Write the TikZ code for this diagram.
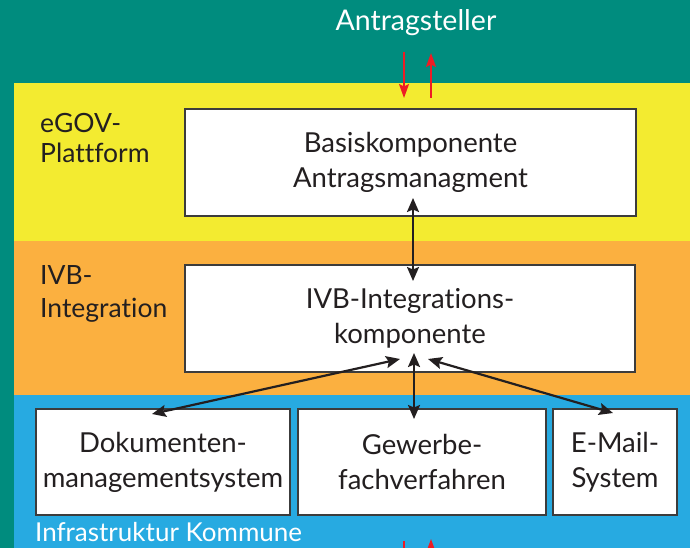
\documentclass[tikz,border=0pt]{standalone}
\usepackage{fontspec}
\setmainfont{Lato}[Ligatures=NoCommon]
\usetikzlibrary{arrows.meta}
\definecolor{bgteal}{RGB}{0,140,126}
\definecolor{bandyellow}{RGB}{243,235,48}
\definecolor{bandorange}{RGB}{251,176,64}
\definecolor{bandblue}{RGB}{39,170,225}
\definecolor{boxline}{RGB}{60,60,60}
\definecolor{textdark}{RGB}{35,31,32}
\definecolor{arrred}{RGB}{237,28,36}
\tikzset{
  compbox/.style={draw=boxline, line width=1.4pt, fill=white, inner sep=0pt,
    align=center, text=textdark, font=\fontsize{27.5}{35}\selectfont},
  bandlabel/.style={align=left, text=textdark, inner sep=0pt, anchor=north west},
  flow/.style={line width=2.2pt, textdark, {Stealth[length=14pt,width=12pt,inset=2.5pt]}-{Stealth[length=14pt,width=12pt,inset=2.5pt]}},
  redarr/.style={line width=2pt, arrred, -{Stealth[length=14pt,width=10pt,inset=2.5pt]}}
}
\begin{document}
\begin{tikzpicture}[x=1pt,y=-1pt]
\useasboundingbox (0,0) rectangle (690,548);
\begin{scope}
\clip (0,0) rectangle (690,548);
\fill[bgteal] (0,0) rectangle (690,548);
\fill[bandyellow] (14,83) rectangle (690,241);
\fill[bandorange] (14,241) rectangle (690,395);
\fill[bandblue] (14,395) rectangle (690,548);

\node[text=white, inner sep=0pt, font=\fontsize{28.5}{30}\selectfont, anchor=base] (antr) at (416,31) {Antragsteller};

\node[bandlabel, font=\fontsize{26.5}{30}\selectfont] (egov) at (40,113) {eGOV-\\Plattform};
\node[bandlabel, font=\fontsize{26.5}{33}\selectfont] (ivb) at (40,265) {IVB-\\Integration};
\node[text=white, inner sep=0pt, font=\fontsize{26}{30}\selectfont, anchor=base west] (infra) at (35,541) {Infrastruktur Kommune};

\node[compbox, minimum width=451pt, minimum height=107pt] (basis) at (410.5,162.5) {Basiskomponente\\Antragsmanagment};
\node[compbox, minimum width=450pt, minimum height=107pt] (integ) at (410,318.5) {IVB-Integrations-\\komponente};
\node[compbox, minimum width=254pt, minimum height=106pt] (dms) at (163,462) {Dokumenten-\\managementsystem};
\node[compbox, minimum width=248pt, minimum height=106pt] (gew) at (422,462) {Gewerbe-\\fachverfahren};
\node[compbox, minimum width=124pt, minimum height=106pt] (mail) at (615,462) {E-Mail-\\System};

% red arrows to/from Antragsteller
\coordinate (rd1) at (404,52);
\coordinate (rd2) at (404,98);
\coordinate (ru1) at (431,98);
\coordinate (ru2) at (431,53);
\draw[redarr] (rd1) -- (rd2);
\draw[redarr] (ru1) -- (ru2);
\coordinate (rb1) at (404,541);
\coordinate (rb2) at (404,580);
\coordinate (rb3) at (431,580);
\coordinate (rb4) at (431,539);
\draw[redarr] (rb1) -- (rb2);
\draw[redarr] (rb3) -- (rb4);

% black connectors
\coordinate (b1) at (413,198);
\coordinate (i1) at (413,281);
\draw[flow] (b1) -- (i1);
\coordinate (i2) at (400,359);
\coordinate (d1) at (152,414);
\draw[flow] (i2) -- (d1);
\coordinate (i3) at (414,353);
\coordinate (g1) at (414,419);
\draw[flow] (i3) -- (g1);
\coordinate (i4) at (428,359);
\coordinate (m1) at (613,413);
\draw[flow] (i4) -- (m1);
\end{scope}
\end{tikzpicture}
\end{document}
